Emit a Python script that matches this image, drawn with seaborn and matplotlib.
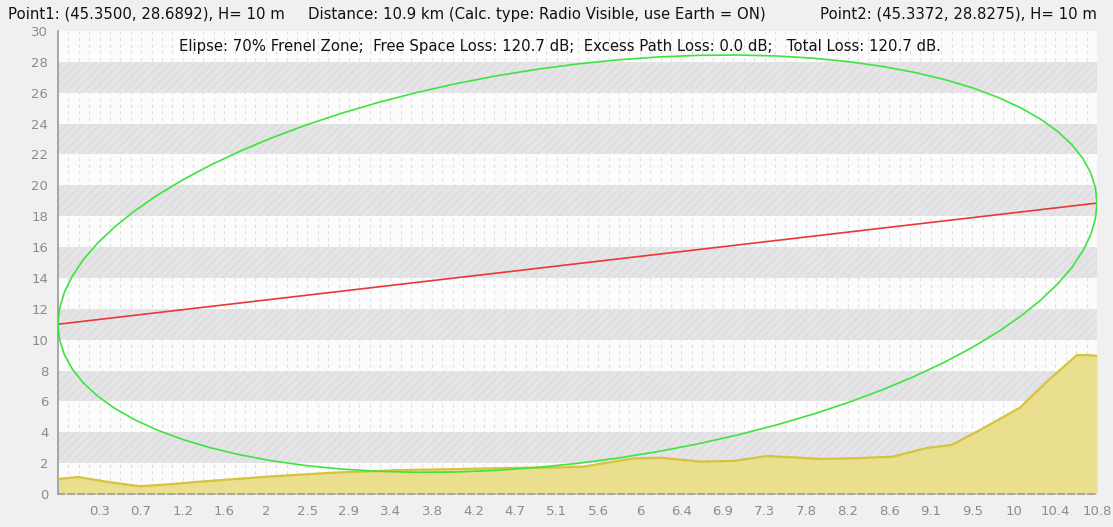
import numpy as np
import pandas as pd
import matplotlib
matplotlib.use("Agg")
import matplotlib.pyplot as plt
import seaborn as sns

# ---- data ----
terrain_km = [0, 0.21, 0.5, 0.85, 1.2, 1.48, 2.17, 2.86, 3.55, 4.2, 4.8, 5.2, 5.46, 5.98,
              6.26, 6.67, 7.02, 7.37, 7.71, 7.92, 8.3, 8.68, 9.03, 9.29, 9.6, 9.9, 10.0,
              10.3, 10.59, 10.7, 10.8]
terrain_h = [0.97, 1.1, 0.8, 0.5, 0.65, 0.8, 1.12, 1.38, 1.55, 1.62, 1.7, 1.72, 1.77, 2.3,
             2.35, 2.1, 2.14, 2.46, 2.35, 2.27, 2.32, 2.42, 2.98, 3.18, 4.2, 5.25, 5.6,
             7.4, 9.0, 9.0, 8.95]
los_km = [0.0, 10.8]
los_h = [11.0, 18.85]
fresnel_halfheight = 12.94
xtick_labels = ["0.3", "0.7", "1.2", "1.6", "2", "2.5", "2.9", "3.4", "3.8", "4.2", "4.7",
                "5.1", "5.6", "6", "6.4", "6.9", "7.3", "7.8", "8.2", "8.6", "9.1", "9.5",
                "10", "10.4", "10.8"]
ytick_values = list(range(0, 31, 2))
header_left = "Point1: (45.3500, 28.6892), H= 10 m"
header_mid = "Distance: 10.9 km (Calc. type: Radio Visible, use Earth = ON)"
header_right = "Point2: (45.3372, 28.8275), H= 10 m"
info_text = ("Elipse: 70% Frenel Zone;  Free Space Loss: 120.7 dB;  "
             "Excess Path Loss: 0.0 dB;   Total Loss: 120.7 dB.")

sns.set_style("white")
plt.rcParams["font.family"] = ["DejaVu Sans"]
plt.rcParams["hatch.linewidth"] = 0.6

fig = plt.figure(figsize=(11.13, 5.27), dpi=100, facecolor="#f0f0f0")
ax = fig.add_axes([58 / 1113, 33 / 527, (1097 - 58) / 1113, (494 - 31) / 527])
ax.set_facecolor("#fcfcfc")
xmax = los_km[-1]
ax.set_xlim(0, xmax)
ax.set_ylim(0, 30)

# alternating bands
for y0 in range(2, 30, 4):
    ax.axhspan(y0, y0 + 2, facecolor="#e5e5e7", edgecolor="#d8d8da", hatch="////",
               linewidth=0, zorder=0)
# faint vertical grid
for gx in np.linspace(0, xmax, 101)[1:-1]:
    ax.axvline(gx, color="#e0e0e0", lw=0.8, ls=(0, (3, 3)), zorder=0.5)

# terrain
tdf = pd.DataFrame({"km": terrain_km, "h": terrain_h})
ax.fill_between(tdf["km"], 0, tdf["h"], color="#e9df8f", zorder=2, linewidth=0)
sns.lineplot(data=tdf, x="km", y="h", ax=ax, color="#d6c23c", lw=1.6, zorder=3)

# line of sight
ldf = pd.DataFrame({"km": los_km, "h": los_h})
sns.lineplot(data=ldf, x="km", y="h", ax=ax, color="#e83838", lw=1.2, zorder=4)

# Fresnel ellipse (70%)
t = np.linspace(0, 2 * np.pi, 81)
cx = (los_km[0] + los_km[1]) / 2
hx = (los_km[1] - los_km[0]) / 2
cy = (los_h[0] + los_h[1]) / 2
hy = (los_h[1] - los_h[0]) / 2
edf = pd.DataFrame({"km": cx - hx * np.cos(t),
                    "h": cy - hy * np.cos(t) + fresnel_halfheight * np.sin(t)})
sns.lineplot(data=edf, x="km", y="h", ax=ax, color="#3ee43e", lw=1.2, zorder=5,
             sort=False, estimator=None)

ax.set_xlabel("")
ax.set_ylabel("")
xt = np.linspace(0, xmax, len(xtick_labels) + 1)[1:]
ax.set_xticks(xt)
ax.set_xticklabels(xtick_labels)
ax.set_yticks(ytick_values)
ax.set_yticklabels([str(v) for v in ytick_values])
ax.tick_params(axis="both", colors="#8c8c8c", labelcolor="#8c8c8c", labelsize=9.5,
               direction="out", length=5, width=1)
ax.tick_params(axis="y", length=4, pad=3)
ax.tick_params(axis="x", pad=3)
for s in ["top", "right"]:
    ax.spines[s].set_visible(False)
for s in ["left", "bottom"]:
    ax.spines[s].set_color("#9a9a9a")
    ax.spines[s].set_linewidth(1.2)
ax.spines["bottom"].set_linestyle((0, (4, 2)))

fs = 10.7
fig.text(8 / 1113, 1 - 14 / 527, header_left, fontsize=fs, va="center", ha="left", color="#111111")
fig.text(308 / 1113, 1 - 14 / 527, header_mid, fontsize=fs, va="center", ha="left", color="#111111")
fig.text(1097 / 1113, 1 - 14 / 527, header_right, fontsize=fs, va="center", ha="right", color="#111111")
fig.text(560 / 1113, 1 - 46 / 527, info_text, fontsize=fs, va="center", ha="center", color="#111111")

fig.savefig("out.png", dpi=100, facecolor=fig.get_facecolor())
